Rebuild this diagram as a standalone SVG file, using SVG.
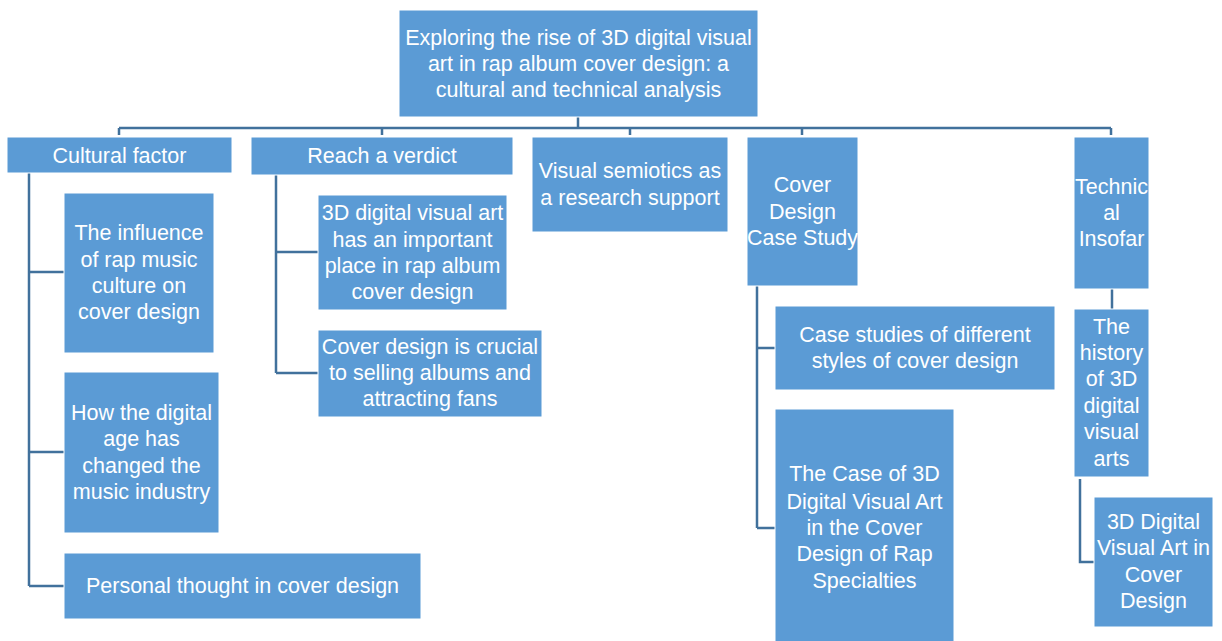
<svg xmlns="http://www.w3.org/2000/svg" width="1222" height="641" viewBox="0 0 1222 641">
<style>
.box{fill:#5B9BD5;stroke:#ffffff;stroke-width:1}
.t{font-family:"Liberation Sans",Arial,sans-serif;font-size:21.5px;fill:#ffffff;text-anchor:middle}
.c{fill:none;stroke:#41719C;stroke-width:2.5}
</style>
<rect width="1222" height="641" fill="#ffffff"/>
<g id="connectors">
<path class="c" d="M578 117V128M119 128H1111M119 128V135M382 128V135M630 128V135M802 128V135M1111 128V135"/>
<path class="c" d="M29 173V586M29 272H64M29 452H64M29 586H64"/>
<path class="c" d="M276 175V373M276 252H318M276 373H318"/>
<path class="c" d="M757 286V528M757 348H775M757 528H775"/>
<path class="c" d="M1112 289V309"/>
<path class="c" d="M1080 479V562H1094"/>
</g>
<g id="root"><rect class="box" x="399" y="10" width="359" height="107"/>
<text class="t"><tspan x="578.5" y="45">Exploring the rise of 3D digital visual</tspan><tspan x="578.5" y="71">art in rap album cover design: a</tspan><tspan x="578.5" y="97">cultural and technical analysis</tspan></text></g>
<g id="cultural"><rect class="box" x="7" y="137" width="225" height="36"/>
<text class="t" x="119.5" y="163">Cultural factor</text></g>
<g id="verdict"><rect class="box" x="251" y="137" width="262" height="38"/>
<text class="t" x="382" y="163">Reach a verdict</text></g>
<g id="semiotics"><rect class="box" x="532" y="137" width="196" height="95"/>
<text class="t"><tspan x="630" y="178">Visual semiotics as</tspan><tspan x="630" y="205">a research support</tspan></text></g>
<g id="casestudy"><rect class="box" x="747" y="137" width="111" height="149"/>
<text class="t"><tspan x="802.5" y="192">Cover</tspan><tspan x="802.5" y="219">Design</tspan><tspan x="802.5" y="245">Case Study</tspan></text></g>
<g id="technical"><rect class="box" x="1074" y="137" width="75" height="152"/>
<text class="t"><tspan x="1111.5" y="194">Technic</tspan><tspan x="1111.5" y="220">al</tspan><tspan x="1111.5" y="246">Insofar</tspan></text></g>
<g id="influence"><rect class="box" x="64" y="193" width="150" height="160"/>
<text class="t"><tspan x="139" y="240">The influence</tspan><tspan x="139" y="267">of rap music</tspan><tspan x="139" y="293">culture on</tspan><tspan x="139" y="319">cover design</tspan></text></g>
<g id="digitalage"><rect class="box" x="64" y="372" width="155" height="161"/>
<text class="t"><tspan x="141.5" y="420">How the digital</tspan><tspan x="141.5" y="446">age has</tspan><tspan x="141.5" y="473">changed the</tspan><tspan x="141.5" y="499">music industry</tspan></text></g>
<g id="personal"><rect class="box" x="64" y="553" width="357" height="66"/>
<text class="t" x="242.5" y="593">Personal thought in cover design</text></g>
<g id="important"><rect class="box" x="318" y="195" width="189" height="115"/>
<text class="t"><tspan x="412.5" y="220">3D digital visual art</tspan><tspan x="412.5" y="247">has an important</tspan><tspan x="412.5" y="273">place in rap album</tspan><tspan x="412.5" y="299">cover design</tspan></text></g>
<g id="crucial"><rect class="box" x="318" y="330" width="224" height="87"/>
<text class="t"><tspan x="430" y="354">Cover design is crucial</tspan><tspan x="430" y="380">to selling albums and</tspan><tspan x="430" y="406">attracting fans</tspan></text></g>
<g id="styles"><rect class="box" x="775" y="306" width="280" height="84"/>
<text class="t"><tspan x="915" y="342">Case studies of different</tspan><tspan x="915" y="368">styles of cover design</tspan></text></g>
<g id="casestudy3d"><rect class="box" x="775" y="409" width="179" height="233"/>
<text class="t"><tspan x="864.5" y="481">The Case of 3D</tspan><tspan x="864.5" y="509">Digital Visual Art</tspan><tspan x="864.5" y="535">in the Cover</tspan><tspan x="864.5" y="561">Design of Rap</tspan><tspan x="864.5" y="588">Specialties</tspan></text></g>
<g id="history"><rect class="box" x="1074" y="309" width="75" height="168"/>
<text class="t"><tspan x="1111.5" y="334">The</tspan><tspan x="1111.5" y="360">history</tspan><tspan x="1111.5" y="386">of 3D</tspan><tspan x="1111.5" y="413">digital</tspan><tspan x="1111.5" y="439">visual</tspan><tspan x="1111.5" y="466">arts</tspan></text></g>
<g id="cover3d"><rect class="box" x="1094" y="497" width="119" height="130"/>
<text class="t"><tspan x="1153.5" y="529">3D Digital</tspan><tspan x="1153.5" y="555">Visual Art in</tspan><tspan x="1153.5" y="582">Cover</tspan><tspan x="1153.5" y="608">Design</tspan></text></g>
</svg>
